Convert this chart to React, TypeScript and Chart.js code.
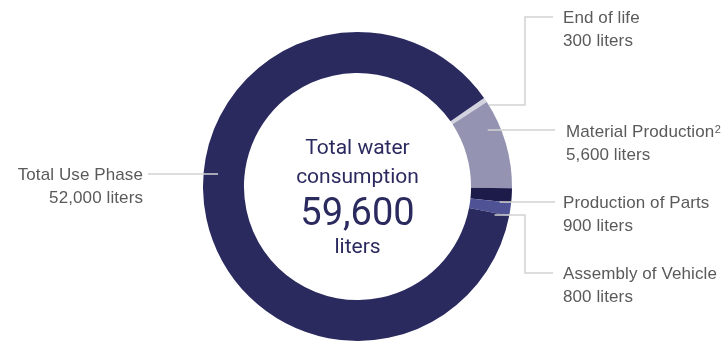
import React, { useEffect, useRef } from "react";
import { Chart, registerables } from "chart.js";

Chart.register(...registerables);

const categories = ["End of life", "Material Production", "Production of Parts", "Assembly of Vehicle", "Total Use Phase"];
const values = [300, 5600, 900, 800, 52000];
const valueLabels = ["300 liters", "5,600 liters", "900 liters", "800 liters", "52,000 liters"];
const superscripts = ["", "2", "", "", ""];
const colors = ["#d3d3df", "#9494b2", "#1d1b4a", "#4f5396", "#2b2a5f"];
const centerLines = ["Total water", "consumption", "59,600", "liters"];

const labelLayout: any[] = [
  { y: 105, edge: "outer", elbowX: 525, textY: 17, textX: 563, align: "left" },
  { y: 130, r: 142, endX: 555, textY: 131, textX: 566, align: "left" },
  { y: 202, r: 143, endX: 555, textY: 202, textX: 563, align: "left" },
  { y: 215, r: 140, elbowX: 525, textY: 273, textX: 563, align: "left" },
  { y: 174, r: 140, endX: 148, textY: 174, textX: 143, align: "right", side: "left" },
];

const LABEL_FONT = "17px 'Liberation Sans', Arial, sans-serif";

const labelPlugin = {
  id: "labels",
  afterDraw(chart: any) {
    const ctx = chart.ctx;
    const arc = chart.getDatasetMeta(0).data[0];
    const cx = arc.x, cy = arc.y;
    const outer = arc.outerRadius;
    ctx.save();
    ctx.strokeStyle = "#d2d2d2";
    ctx.lineWidth = 1.5;
    categories.forEach((name, i) => {
      const L = labelLayout[i];
      const r = L.edge === "outer" ? outer : L.r;
      const dy = L.y - cy;
      const dx = Math.sqrt(Math.max(r * r - dy * dy, 0));
      const sx = L.side === "left" ? cx - dx : cx + dx;
      ctx.beginPath();
      ctx.moveTo(sx, L.y);
      if (L.elbowX !== undefined) {
        ctx.lineTo(L.elbowX, L.y);
        ctx.lineTo(L.elbowX, L.textY);
        ctx.lineTo(553, L.textY);
      } else {
        ctx.lineTo(L.endX, L.y);
      }
      ctx.stroke();
      ctx.fillStyle = "#5a5a5a";
      ctx.font = LABEL_FONT;
      ctx.letterSpacing = "0.1px";
      ctx.textBaseline = "middle";
      ctx.textAlign = L.align;
      ctx.fillText(name, L.textX, L.textY + 1);
      if (superscripts[i]) {
        const w = ctx.measureText(name).width;
        ctx.font = "11px 'Liberation Sans', Arial, sans-serif";
        ctx.textAlign = "left";
        ctx.fillText(superscripts[i], L.textX + w + 0.5, L.textY - 1);
        ctx.font = LABEL_FONT;
        ctx.textAlign = L.align;
      }
      ctx.fillText(valueLabels[i], L.textX, L.textY + 24);
    });
    ctx.letterSpacing = "0px";
    ctx.fillStyle = "#2b2a5f";
    ctx.textAlign = "center";
    ctx.textBaseline = "middle";
    ctx.font = "21px Roboto, sans-serif";
    ctx.fillText(centerLines[0], cx, cy - 38);
    ctx.fillText(centerLines[1], cx, cy - 9);
    ctx.font = "38px Roboto, sans-serif";
    ctx.fillText(centerLines[2], cx, cy + 29);
    ctx.font = "21px Roboto, sans-serif";
    ctx.fillText(centerLines[3], cx, cy + 61);
    ctx.restore();
  },
};

export default function App() {
  const ref = useRef<HTMLCanvasElement>(null);
  useEffect(() => {
    const chart = new Chart(ref.current as HTMLCanvasElement, {
      type: "doughnut",
      data: {
        labels: categories,
        datasets: [
          {
            data: values,
            backgroundColor: colors,
            borderWidth: 0,
          },
        ],
      },
      options: {
        responsive: false,
        animation: false,
        rotation: 55,
        cutout: "73.5%",
        layout: { padding: { top: 32, bottom: 0, left: 0, right: 9 } },
        plugins: { legend: { display: false }, tooltip: { enabled: false } },
      },
      plugins: [labelPlugin],
    });
    return () => chart.destroy();
  }, []);
  return (
    <div style={{ position: "fixed", left: 0, top: 0, width: 724, height: 341, background: "#fff" }}>
      <canvas ref={ref} width={724} height={341} style={{ width: 724, height: 341 }} />
    </div>
  );
}
